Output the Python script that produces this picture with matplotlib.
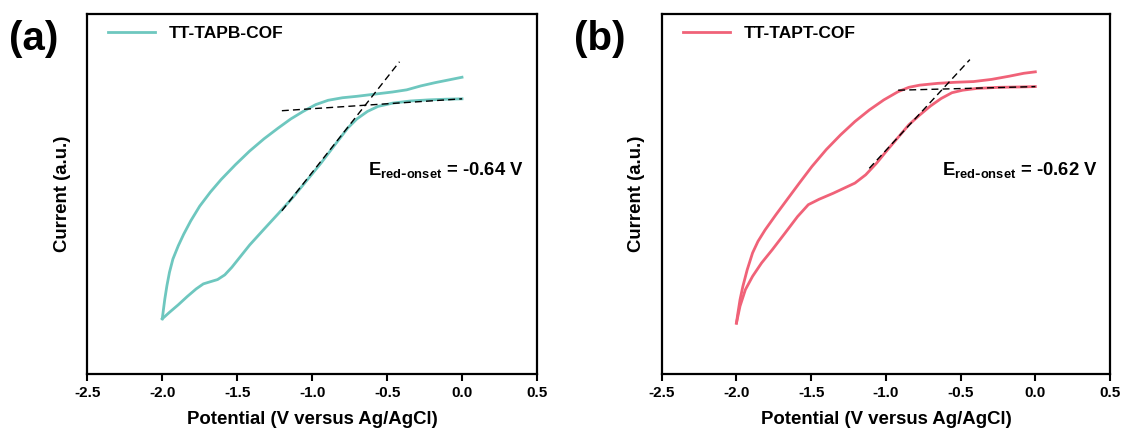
import matplotlib
matplotlib.use("Agg")
import matplotlib.pyplot as plt

plt.rcParams["font.family"] = ["Liberation Sans", "DejaVu Sans"]
plt.rcParams["font.weight"] = "bold"

# ── Data ────────────────────────────────────────────────────────────────────

# TT-TAPB-COF
a_up_x = [-2.0, -1.993, -1.983, -1.969, -1.952, -1.929, -1.893, -1.857, -1.810,
          -1.750, -1.679, -1.607, -1.512, -1.417, -1.321, -1.226, -1.143, -1.060,
          -0.976, -0.893, -0.798, -0.702, -0.583, -0.464, -0.369, -0.274, -0.179,
          -0.083, 0.0]
a_up_y = [0.152, 0.175, 0.207, 0.244, 0.281, 0.318, 0.355, 0.387, 0.424,
          0.465, 0.504, 0.539, 0.580, 0.618, 0.652, 0.682, 0.707, 0.728,
          0.747, 0.759, 0.766, 0.770, 0.776, 0.782, 0.788, 0.799, 0.808,
          0.816, 0.823]
a_lo_x = [-2.0, -1.952, -1.893, -1.833, -1.774, -1.726, -1.679, -1.631, -1.583,
          -1.536, -1.488, -1.417, -1.321, -1.226, -1.131, -1.036, -0.940, -0.845,
          -0.762, -0.702, -0.631, -0.560, -0.464, -0.345, -0.226, -0.107, 0.0]
a_lo_y = [0.152, 0.170, 0.191, 0.214, 0.235, 0.249, 0.255, 0.261, 0.274,
          0.295, 0.320, 0.357, 0.401, 0.444, 0.488, 0.536, 0.585, 0.637,
          0.682, 0.707, 0.728, 0.742, 0.751, 0.757, 0.760, 0.762, 0.763]
a_base_x = [-1.202, 0.0]
a_base_y = [0.730, 0.763]
a_tan_x = [-1.202, -0.417]
a_tan_y = [0.452, 0.866]

# TT-TAPT-COF
b_up_x = [-2.0, -1.990, -1.976, -1.957, -1.928, -1.892, -1.856, -1.808, -1.736,
          -1.663, -1.579, -1.495, -1.399, -1.303, -1.207, -1.111, -1.014, -0.918,
          -0.846, -0.774, -0.654, -0.534, -0.413, -0.293, -0.173, -0.077, 0.0]
b_up_y = [0.140, 0.168, 0.205, 0.242, 0.288, 0.335, 0.367, 0.399, 0.441,
          0.482, 0.529, 0.575, 0.622, 0.663, 0.700, 0.732, 0.760, 0.783,
          0.795, 0.801, 0.806, 0.809, 0.811, 0.817, 0.826, 0.834, 0.838]
b_lo_x = [-2.0, -1.976, -1.940, -1.892, -1.832, -1.760, -1.675, -1.591, -1.519,
          -1.447, -1.351, -1.279, -1.207, -1.135, -1.063, -0.990, -0.918, -0.846,
          -0.774, -0.702, -0.630, -0.558, -0.486, -0.389, -0.245, -0.101, 0.0]
b_lo_y = [0.140, 0.187, 0.233, 0.270, 0.307, 0.344, 0.390, 0.436, 0.469,
          0.484, 0.501, 0.515, 0.529, 0.552, 0.584, 0.621, 0.656, 0.691,
          0.718, 0.743, 0.764, 0.780, 0.787, 0.792, 0.795, 0.796, 0.797]
b_base_x = [-0.918, 0.0]
b_base_y = [0.787, 0.797]
b_tan_x = [-1.111, -0.438]
b_tan_y = [0.570, 0.872]

x_ticks = [-2.5, -2.0, -1.5, -1.0, -0.5, 0.0, 0.5]

panels = [
    dict(tag="(a)", name="TT-TAPB-COF", color="#6ec7bf", onset="-0.64",
         up=(a_up_x, a_up_y), lo=(a_lo_x, a_lo_y),
         base=(a_base_x, a_base_y), tan=(a_tan_x, a_tan_y),
         pos=[0.0777, 0.1433, 0.400, 0.8257], tag_x=0.008),
    dict(tag="(b)", name="TT-TAPT-COF", color="#f06278", onset="-0.62",
         up=(b_up_x, b_up_y), lo=(b_lo_x, b_lo_y),
         base=(b_base_x, b_base_y), tan=(b_tan_x, b_tan_y),
         pos=[0.5887, 0.1433, 0.3989, 0.8257], tag_x=0.511),
]

fig = plt.figure(figsize=(11.24, 4.36), dpi=100)

for p in panels:
    ax = fig.add_axes(p["pos"])
    ax.plot(*p["up"], color=p["color"], lw=2.0, label=p["name"], solid_joinstyle="round")
    ax.plot(*p["lo"], color=p["color"], lw=2.0, solid_joinstyle="round")
    ax.plot(*p["base"], color="black", lw=1.0, ls=(0, (5, 3)))
    ax.plot(*p["tan"], color="black", lw=1.0, ls=(0, (5, 3)))

    ax.set_xlim(-2.5, 0.5)
    ax.set_ylim(0, 1)
    ax.set_xticks(x_ticks)
    ax.set_xticklabels([f"{t:.1f}" for t in x_ticks], fontsize=11, fontweight="bold")
    ax.set_yticks([])
    ax.tick_params(axis="x", direction="out", length=5, width=1.5, pad=4)
    for s in ax.spines.values():
        s.set_linewidth(1.6)

    ax.set_xlabel("Potential (V versus Ag/AgCl)", fontsize=13.4, fontweight="bold", labelpad=8)
    ax.set_ylabel("Current (a.u.)", fontsize=13.4, fontweight="bold", labelpad=12)

    ax.legend(loc="upper left", frameon=False, handlelength=2.7,
              borderaxespad=0.3, bbox_to_anchor=(0.02, 1.0),
              prop=dict(weight="bold", size=12.5))

    ax.text(-0.627, 0.565, r"E$_{\mathregular{red\text{-}onset}}$ = " + p["onset"] + " V",
            fontsize=13.3, fontweight="bold", va="center", ha="left")

    fig.text(p["tag_x"], 0.955, p["tag"], fontsize=29, fontweight="bold", va="top")

plt.savefig("out.png", dpi=100)
plt.close()
